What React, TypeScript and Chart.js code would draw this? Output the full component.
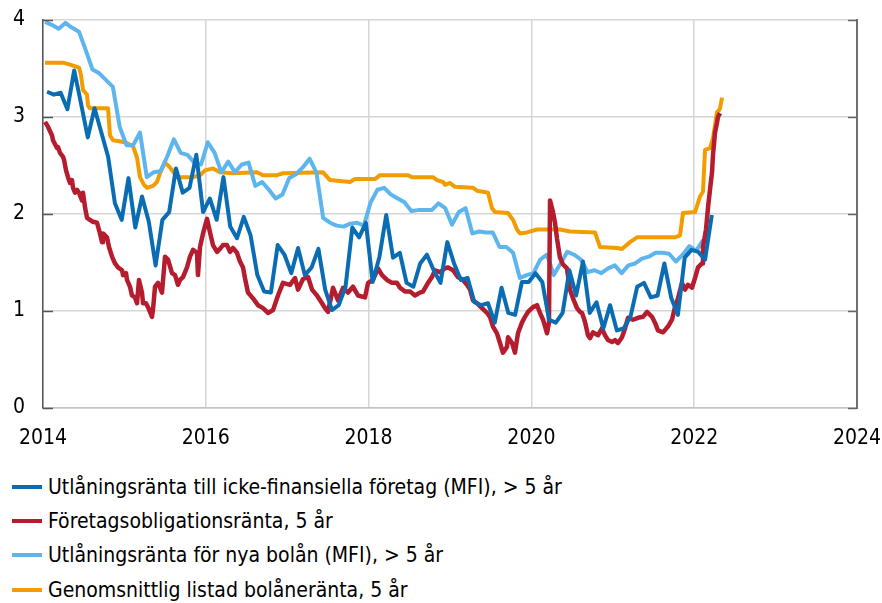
import React, { useEffect, useRef } from "react";
import { Chart, registerables } from "chart.js";

Chart.register(...registerables);

// ---------- DATA ----------
const xTickYears = [2014, 2016, 2018, 2020, 2022, 2024];
const yTickValues = [0, 1, 2, 3, 4];

const seriesNames = [
  "Utlåningsränta till icke-finansiella företag (MFI), > 5 år",
  "Företagsobligationsränta, 5 år",
  "Utlåningsränta för nya bolån (MFI), > 5 år",
  "Genomsnittlig listad bolåneränta, 5 år",
];
const seriesColors = ["#0a6db3", "#b51c2d", "#5db5ee", "#f39c00"];

// Monthly, starting Jan 2014
const foretagStart = 2014.05;
const foretagMFI = [
  3.26, 3.23, 3.25, 3.08, 3.48, 3.14, 2.79, 3.09, 2.84, 2.59, 2.11, 1.94, 2.37, 1.86, 2.18, 1.92, 1.47, 1.94, 2.02, 2.47, 2.22, 2.27, 2.61, 2.02, 2.16, 1.94, 2.38,
  1.87, 1.75, 1.97, 1.78, 1.37, 1.2, 1.19, 1.68, 1.58, 1.39, 1.65, 1.37, 1.45, 1.64, 1.22, 1.01, 1.06, 1.25, 1.86, 1.76, 1.91, 1.3, 1.56, 1.99, 1.55,
  1.6, 1.29, 1.25, 1.49, 1.58, 1.42, 1.29, 1.71, 1.49, 1.32, 1.34, 1.09, 1.06, 1.08, 0.88, 1.24, 0.98, 0.96, 1.3, 1.3, 1.39, 1.3, 0.91, 0.88,
  0.98, 1.42, 1.16, 1.51, 0.98, 1.09, 0.82, 1.06, 0.8, 0.82, 0.94, 1.25, 1.29, 1.14, 1.16, 1.49, 1.14, 0.96, 1.55, 1.63, 1.61, 1.53, 1.99,
];

const bolanStart = 2014.025;
const bolanMFI = [
  3.98, 3.95, 3.91, 3.97, 3.92, 3.88, 3.69, 3.49, 3.45, 3.38,
  3.31, 2.9, 2.71, 2.71, 2.84, 2.38, 2.43, 2.44, 2.59, 2.77,
  2.63, 2.61, 2.53, 2.51, 2.74, 2.63, 2.43, 2.54, 2.43, 2.51,
  2.53, 2.29, 2.33, 2.25, 2.16, 2.2, 2.37, 2.41, 2.48, 2.57,
  2.43, 1.96, 1.91, 1.88, 1.87, 1.9, 1.91, 1.88, 2.12, 2.25,
  2.27, 2.2, 2.16, 2.12, 2.03, 2.04, 2.04, 2.04, 2.11, 2.06, 1.89,
  2.02, 2.06, 1.8, 1.82, 1.81, 1.81, 1.66, 1.66, 1.6, 1.34, 1.37,
  1.39, 1.53, 1.58, 1.37, 1.49, 1.61, 1.58, 1.53, 1.4, 1.42,
  1.39, 1.44, 1.47, 1.39, 1.47, 1.49, 1.54, 1.56, 1.6, 1.6, 1.59,
  1.51, 1.58, 1.67, 1.62, 1.73,
];

// Corporate bond rate (irregular dates, decimal years)
const obligDates = [
  2014.025, 2014.061, 2014.111, 2014.123, 2014.172, 2014.184, 2014.209, 2014.246, 2014.258, 2014.283, 2014.307, 2014.332, 2014.356, 2014.369, 2014.393, 2014.418, 2014.442, 2014.479, 2014.491, 2014.516, 2014.541, 2014.577, 2014.614, 2014.663, 2014.7, 2014.725, 2014.737, 2014.786, 2014.811, 2014.848, 2014.885, 2014.921, 2014.971, 2014.983,
  2015.02, 2015.032, 2015.069, 2015.093, 2015.13, 2015.155, 2015.179, 2015.216, 2015.229, 2015.265, 2015.29, 2015.339, 2015.351, 2015.376, 2015.413, 2015.462, 2015.499, 2015.536, 2015.585, 2015.622, 2015.658, 2015.683, 2015.72, 2015.769, 2015.806, 2015.843, 2015.892, 2015.904, 2015.929, 2015.966,
  2016.015, 2016.052, 2016.088, 2016.138, 2016.174, 2016.211, 2016.26, 2016.297, 2016.334, 2016.383, 2016.42, 2016.457, 2016.481, 2016.518, 2016.58, 2016.641, 2016.703, 2016.764, 2016.826, 2016.887, 2016.948,
  2017.034, 2017.096, 2017.133, 2017.194, 2017.256, 2017.305, 2017.366, 2017.428, 2017.464, 2017.501, 2017.563, 2017.624, 2017.686, 2017.747, 2017.808, 2017.87, 2017.956, 2017.993,
  2018.054, 2018.115, 2018.165, 2018.226, 2018.287, 2018.349, 2018.386, 2018.447, 2018.509, 2018.57, 2018.631, 2018.668, 2018.73, 2018.779, 2018.816, 2018.877, 2018.939, 2018.975,
  2019.037, 2019.098, 2019.16, 2019.209, 2019.246, 2019.283, 2019.332, 2019.393, 2019.455, 2019.491, 2019.528, 2019.577, 2019.614, 2019.651, 2019.7, 2019.713, 2019.762, 2019.798, 2019.835, 2019.884, 2019.921, 2019.958,
  2020.02, 2020.069, 2020.106, 2020.143, 2020.192, 2020.216, 2020.229, 2020.265, 2020.29, 2020.314, 2020.351, 2020.388, 2020.437, 2020.474, 2020.511, 2020.56, 2020.597, 2020.622, 2020.658, 2020.695, 2020.72, 2020.757, 2020.818, 2020.867, 2020.904, 2020.941, 2020.99,
  2021.027, 2021.064, 2021.113, 2021.15, 2021.187, 2021.248, 2021.31, 2021.371, 2021.42, 2021.482, 2021.518, 2021.555, 2021.617, 2021.678, 2021.727, 2021.764, 2021.801, 2021.85, 2021.887, 2021.924, 2021.973,
  2022.01, 2022.047, 2022.096, 2022.108, 2022.145, 2022.17, 2022.194, 2022.219, 2022.231, 2022.256, 2022.28, 2022.292, 2022.317,
];
const obligValues = [
  2.95, 2.9, 2.81, 2.76, 2.68, 2.69, 2.63, 2.59, 2.56, 2.45, 2.38, 2.32, 2.35, 2.27, 2.22, 2.25, 2.22, 2.14, 2.22, 2.07, 1.96, 1.94, 1.92, 1.91, 1.8, 1.71, 1.8, 1.76, 1.66, 1.56, 1.49, 1.45, 1.42, 1.37,
  1.39, 1.32, 1.25, 1.16, 1.14, 1.08, 1.32, 1.19, 1.08, 1.08, 1.04, 0.94, 1.01, 1.25, 1.29, 1.19, 1.56, 1.53, 1.39, 1.37, 1.27, 1.32, 1.35, 1.45, 1.56, 1.63, 1.6, 1.37, 1.66, 1.8,
  1.95, 1.81, 1.68, 1.61, 1.64, 1.68, 1.68, 1.61, 1.65, 1.6, 1.51, 1.45, 1.34, 1.19, 1.13, 1.06, 1.03, 0.98, 1.01, 1.16, 1.29,
  1.27, 1.34, 1.22, 1.33, 1.35, 1.22, 1.16, 1.08, 1.03, 0.99, 1.24, 1.11, 1.24, 1.19, 1.25, 1.16, 1.14, 1.29,
  1.32, 1.44, 1.37, 1.32, 1.29, 1.29, 1.24, 1.2, 1.2, 1.16, 1.19, 1.2, 1.29, 1.35, 1.42, 1.4, 1.44, 1.45,
  1.42, 1.35, 1.32, 1.27, 1.22, 1.11, 1.08, 1.03, 0.98, 0.94, 0.84, 0.77, 0.67, 0.57, 0.63, 0.73, 0.67, 0.57, 0.77, 0.88, 0.94, 0.99,
  1.04, 1.06, 0.98, 0.91, 0.77, 0.88, 2.14, 2.02, 1.91, 1.75, 1.55, 1.48, 1.44, 1.22, 1.13, 1.03, 0.99, 0.98, 0.89, 0.75, 0.72, 0.78, 0.75, 0.82, 0.75, 0.7, 0.68,
  0.7, 0.67, 0.73, 0.82, 0.93, 0.91, 0.93, 0.94, 0.99, 0.94, 0.88, 0.8, 0.78, 0.84, 0.91, 1.04, 1.13, 1.29, 1.22, 1.27, 1.24,
  1.34, 1.45, 1.49, 1.66, 1.84, 2.07, 2.25, 2.43, 2.61, 2.84, 2.94, 3.0, 3.04,
];

// Average listed mortgage rate, 5y (dates of rate changes, decimal years)
const listadDates = [
  2014.025, 2014.246, 2014.332, 2014.442, 2014.467, 2014.491, 2014.541, 2014.553, 2014.577, 2014.799, 2014.823, 2014.86,
  2015.007, 2015.106, 2015.155, 2015.192, 2015.241, 2015.278, 2015.351, 2015.4, 2015.437, 2015.499, 2015.56, 2015.646, 2015.843, 2015.929, 2015.99,
  2016.088, 2016.174, 2016.334, 2016.629, 2016.703, 2016.875, 2016.948,
  2017.44, 2017.526, 2017.771, 2017.833,
  2018.079, 2018.14, 2018.484, 2018.533, 2018.791, 2018.84, 2018.914, 2018.939,
  2019.0, 2019.061, 2019.283, 2019.332, 2019.405, 2019.467, 2019.516, 2019.553, 2019.713, 2019.774, 2019.823, 2019.86, 2019.946,
  2020.069, 2020.351, 2020.474, 2020.781, 2020.843,
  2021.052, 2021.113, 2021.211, 2021.297, 2021.764, 2021.826, 2021.862,
  2022.01, 2022.071, 2022.108, 2022.133, 2022.194, 2022.231, 2022.256, 2022.28, 2022.305, 2022.317, 2022.342,
];
const listadValues = [
  3.56, 3.56, 3.54, 3.51, 3.43, 3.28, 3.23, 3.12, 3.09, 3.09, 2.81, 2.76,
  2.74, 2.7, 2.58, 2.38, 2.3, 2.27, 2.29, 2.33, 2.42, 2.53, 2.48, 2.38, 2.38, 2.4, 2.45,
  2.47, 2.43, 2.42, 2.43, 2.4, 2.4, 2.42,
  2.43, 2.35, 2.33, 2.36,
  2.36, 2.4, 2.4, 2.38, 2.38, 2.35, 2.33, 2.3,
  2.32, 2.28, 2.27, 2.24, 2.23, 2.22, 2.06, 2.02, 2.01, 1.94, 1.84, 1.8, 1.81,
  1.84, 1.84, 1.82, 1.81, 1.66,
  1.65, 1.64, 1.71, 1.76, 1.76, 1.78, 2.01,
  2.02, 2.18, 2.23, 2.66, 2.68, 2.78, 2.92, 3.05, 3.07, 3.09, 3.2,
];

const FONT = "'Liberation Sans Narrow', 'DejaVu Sans Condensed', sans-serif";

function monthly(start: number, vals: number[]) {
  return vals.map((v, i) => ({ x: start + i / 12, y: v }));
}
function paired(dates: number[], vals: number[]) {
  return vals.map((v, i) => ({ x: dates[i], y: v }));
}

const innerTicks = {
  id: "innerTicks",
  afterDraw(chart: any) {
    const { ctx, chartArea, scales } = chart;
    const y = scales.y;
    ctx.save();
    ctx.lineWidth = 1.5;
    yTickValues.forEach((v) => {
      const py = Math.round(y.getPixelForValue(v)) + 0.5;
      ctx.strokeStyle = "#555";
      ctx.beginPath();
      ctx.moveTo(chartArea.left, py);
      ctx.lineTo(chartArea.left + 10, py);
      ctx.stroke();
      ctx.strokeStyle = "#666";
      ctx.beginPath();
      ctx.moveTo(chartArea.right - 9, py);
      ctx.lineTo(chartArea.right, py);
      ctx.stroke();
    });
    ctx.restore();
  },
};

export default function App() {
  const ref = useRef<HTMLCanvasElement>(null);
  useEffect(() => {
    if (!ref.current) return;
    const chart = new Chart(ref.current, {
      type: "line",
      data: {
        datasets: [
          { label: seriesNames[0], data: monthly(foretagStart, foretagMFI), borderColor: seriesColors[0], borderWidth: 4 },
          { label: seriesNames[1], data: paired(obligDates, obligValues), borderColor: seriesColors[1], borderWidth: 4.5 },
          { label: seriesNames[2], data: monthly(bolanStart, bolanMFI), borderColor: seriesColors[2], borderWidth: 4 },
          { label: seriesNames[3], data: paired(listadDates, listadValues), borderColor: seriesColors[3], borderWidth: 4 },
        ] as any,
      },
      options: {
        animation: false,
        responsive: false,
        parsing: false as any,
        elements: { point: { radius: 0 }, line: { tension: 0, borderJoinStyle: "round", borderCapStyle: "butt" } },
        layout: { padding: { left: 0, right: 25, top: 20, bottom: 0 } },
        plugins: { legend: { display: false }, tooltip: { enabled: false } },
        scales: {
          x: {
            type: "linear",
            min: 2014,
            max: 2024,
            afterBuildTicks: (s: any) => {
              s.ticks = xTickYears.map((v) => ({ value: v }));
            },
            ticks: {
              callback: (v: any) => String(v),
              color: "#000",
              font: { family: FONT, size: 21 },
              padding: 18,
              maxRotation: 0,
              autoSkip: false,
            },
            grid: { color: "#d6d6d6", lineWidth: 1.5, drawTicks: false, tickLength: 0 },
            border: { display: true, color: "#c4c4c4", width: 1.5 },
            afterFit: (s: any) => {
              s.height = 57;
              s.paddingLeft = 0;
              s.paddingRight = 0;
            },
          },
          y: {
            type: "linear",
            min: 0,
            max: 4,
            afterBuildTicks: (s: any) => {
              s.ticks = yTickValues.map((v) => ({ value: v }));
            },
            ticks: { color: "#000", font: { family: FONT, size: 21 }, padding: 18 },
            grid: { color: "#d6d6d6", lineWidth: 1.5, drawTicks: false, tickLength: 0 },
            border: { display: true, color: "#555", width: 1.5 },
            afterFit: (s: any) => {
              s.width = 43;
              s.paddingTop = 0;
              s.paddingBottom = 0;
            },
          },
          y2: {
            type: "linear",
            position: "right",
            min: 0,
            max: 4,
            ticks: { display: false },
            grid: { drawOnChartArea: false, drawTicks: false, tickLength: 0 },
            border: { display: true, color: "#6f6f6f", width: 2 },
            afterFit: (s: any) => {
              s.width = 0;
              s.paddingTop = 0;
              s.paddingBottom = 0;
            },
          },
        },
      },
      plugins: [innerTicks],
    });
    return () => chart.destroy();
  }, []);

  const rowCenters = [487, 521, 555, 590];
  return (
    <div style={{ position: "absolute", left: 0, top: 0, width: 882, height: 603, background: "#fff", overflow: "hidden" }}>
      <canvas ref={ref} width={882} height={465} style={{ display: "block" }} />
      {seriesNames.map((name, i) => (
        <div
          key={name}
          style={{
            position: "absolute",
            left: 12,
            top: rowCenters[i] - 14,
            height: 28,
            display: "flex",
            alignItems: "center",
            fontFamily: FONT,
            fontSize: 21,
            color: "#000",
            whiteSpace: "nowrap",
          }}
        >
          <span style={{ display: "inline-block", width: 30, height: 4, background: seriesColors[i], marginRight: 6 }} />
          <span>{name}</span>
        </div>
      ))}
    </div>
  );
}
